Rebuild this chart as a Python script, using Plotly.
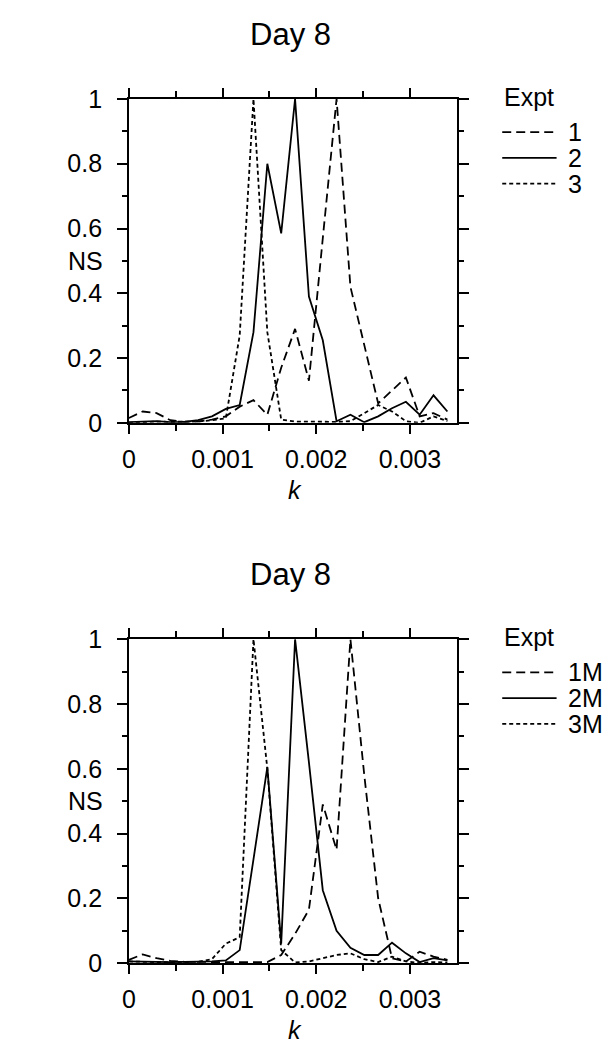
import plotly.graph_objects as go

# ---------------- data ----------------
k = [0, 0.000148, 0.000296, 0.000443, 0.000591, 0.000739, 0.000887, 0.001035,
     0.001183, 0.00133, 0.001478, 0.001626, 0.001774, 0.001922, 0.00207, 0.002217,
     0.002365, 0.002513, 0.002661, 0.002809, 0.002957, 0.003104, 0.003252, 0.0034]

# top panel (Expt 1, 2, 3)
expt1 = [0.015, 0.035, 0.03, 0.008, 0.003, 0.004, 0.01, 0.02, 0.05, 0.07, 0.025, 0.17,
         0.29, 0.13, 0.57, 1.0, 0.42, 0.24, 0.06, 0.10, 0.14, 0.02, 0.03, 0.01]
expt2 = [0.002, 0.004, 0.005, 0.002, 0.003, 0.008, 0.02, 0.043, 0.055, 0.28, 0.80, 0.585,
         1.0, 0.39, 0.255, 0.005, 0.025, 0.002, 0.02, 0.045, 0.065, 0.025, 0.085, 0.035]
expt3 = [0.0, 0.002, 0.004, 0.003, 0.003, 0.004, 0.008, 0.014, 0.27, 1.0, 0.28, 0.01,
         0.004, 0.003, 0.003, 0.003, 0.005, 0.03, 0.055, 0.035, 0.005, 0.0, 0.02, 0.005]

# bottom panel (Expt 1M, 2M, 3M)
expt1m = [0.01, 0.027, 0.015, 0.007, 0.004, 0.003, 0.003, 0.003, 0.003, 0.003, 0.003, 0.025,
          0.09, 0.165, 0.49, 0.35, 1.0, 0.58, 0.2, 0.015, 0.005, 0.035, 0.02, 0.01]
expt2m = [0.005, 0.004, 0.003, 0.003, 0.004, 0.004, 0.005, 0.008, 0.04, 0.32, 0.605, 0.06,
          1.0, 0.62, 0.225, 0.10, 0.047, 0.025, 0.025, 0.063, 0.03, 0.003, 0.015, 0.008]
expt3m = [0.005, 0.003, 0.003, 0.003, 0.003, 0.004, 0.012, 0.06, 0.08, 1.0, 0.6, 0.04,
          0.002, 0.005, 0.015, 0.025, 0.03, 0.012, 0.003, 0.02, 0.005, 0.0, 0.003, 0.002]

top_names = ["1", "2", "3"]
bottom_names = ["1M", "2M", "3M"]
panel_title = "Day 8"
x_tickvals = [0, 0.001, 0.002, 0.003]
x_ticktext = ["0", "0.001", "0.002", "0.003"]
y_tickvals = [0, 0.2, 0.4, 0.6, 0.8, 1]
y_ticktext = ["0", "0.2", "0.4", "0.6", "0.8", "1"]

# ---------------- styling ----------------
W, H = 607, 1053
FONT = "Liberation Sans, Arial, Helvetica, sans-serif"
dashes = ["9px,5px", "solid", "4px,3px"]
LW = 1.8
TICK_FS = 25

def px(x):
    return x / W

def py(y):
    return 1 - y / H

x_dom = [px(123.3), px(455)]
top_dom = [py(420), py(87.3)]
bot_dom = [py(975), py(642.3)]

fig = go.Figure()

series_top = [expt1, expt2, expt3]
series_bot = [expt1m, expt2m, expt3m]
for i, s in enumerate(series_top):
    fig.add_trace(go.Scatter(x=k, y=s, mode="lines", name=top_names[i],
                             line=dict(color="black", width=LW, dash=dashes[i]),
                             xaxis="x", yaxis="y", showlegend=False))
for i, s in enumerate(series_bot):
    fig.add_trace(go.Scatter(x=k, y=s, mode="lines", name=bottom_names[i],
                             line=dict(color="black", width=LW, dash=dashes[i]),
                             xaxis="x2", yaxis="y2", showlegend=False))

xaxis_common = dict(range=[0, 0.0035], tickvals=x_tickvals, ticktext=x_ticktext,
                    showline=True, linecolor="black", linewidth=1.5, mirror="ticks",
                    ticks="outside", ticklen=9, tickwidth=1.5, tickcolor="black",
                    minor=dict(tickvals=[0.0005, 0.0015, 0.0025], ticks="outside",
                               ticklen=6, tickwidth=1.5, tickcolor="black"),
                    showgrid=False, zeroline=False, ticklabelstandoff=4,
                    tickfont=dict(family=FONT, size=TICK_FS, color="black"),
                    domain=x_dom, fixedrange=True)
yaxis_common = dict(range=[0, 1], tickvals=y_tickvals, ticktext=y_ticktext,
                    showline=True, linecolor="black", linewidth=1.5, mirror="ticks",
                    ticks="outside", ticklen=10, tickwidth=1.5, tickcolor="black",
                    minor=dict(tickvals=[0.1, 0.3, 0.5, 0.7, 0.9], ticks="outside",
                               ticklen=5, tickwidth=1.5, tickcolor="black"),
                    showgrid=False, zeroline=False, ticklabelstandoff=10,
                    tickfont=dict(family=FONT, size=TICK_FS, color="black"),
                    fixedrange=True)

fig.update_layout(
    width=W, height=H,
    margin=dict(l=0, r=0, t=0, b=0),
    paper_bgcolor="white", plot_bgcolor="white",
    xaxis=dict(**xaxis_common, anchor="y"),
    yaxis=dict(**yaxis_common, domain=top_dom, anchor="x"),
    xaxis2=dict(**xaxis_common, anchor="y2"),
    yaxis2=dict(**yaxis_common, domain=bot_dom, anchor="x2"),
    showlegend=False,
)

annotations = []
shapes = []

def text(x, y, t, size=24, italic=False, xanchor="center"):
    annotations.append(dict(x=px(x), y=py(y), xref="paper", yref="paper", text=t,
                            showarrow=False, xanchor=xanchor, yanchor="middle",
                            font=dict(family=FONT, size=size, color="black",
                                      style="italic" if italic else "normal")))

for (top_px, bottom_px, names) in [(87.3, 420, top_names), (642.3, 975, bottom_names)]:
    mid = (top_px + bottom_px) / 2
    text(287, top_px - 66, panel_title, size=31)
    text(79, mid, "NS", size=TICK_FS)
    text(291, bottom_px + 69, "k", size=TICK_FS, italic=True)
    # legend
    text(501, top_px - 2, "Expt", size=TICK_FS, xanchor="left")
    for i, nm in enumerate(names):
        yy = top_px + 34 + i * 26.5
        shapes.append(dict(type="line", xref="paper", yref="paper",
                           x0=px(501), x1=px(556), y0=py(yy), y1=py(yy),
                           line=dict(color="black", width=LW, dash=dashes[i])))
        text(566, yy, nm, size=TICK_FS, xanchor="left")

fig.update_layout(annotations=annotations, shapes=shapes)

fig.write_html("out.html")
